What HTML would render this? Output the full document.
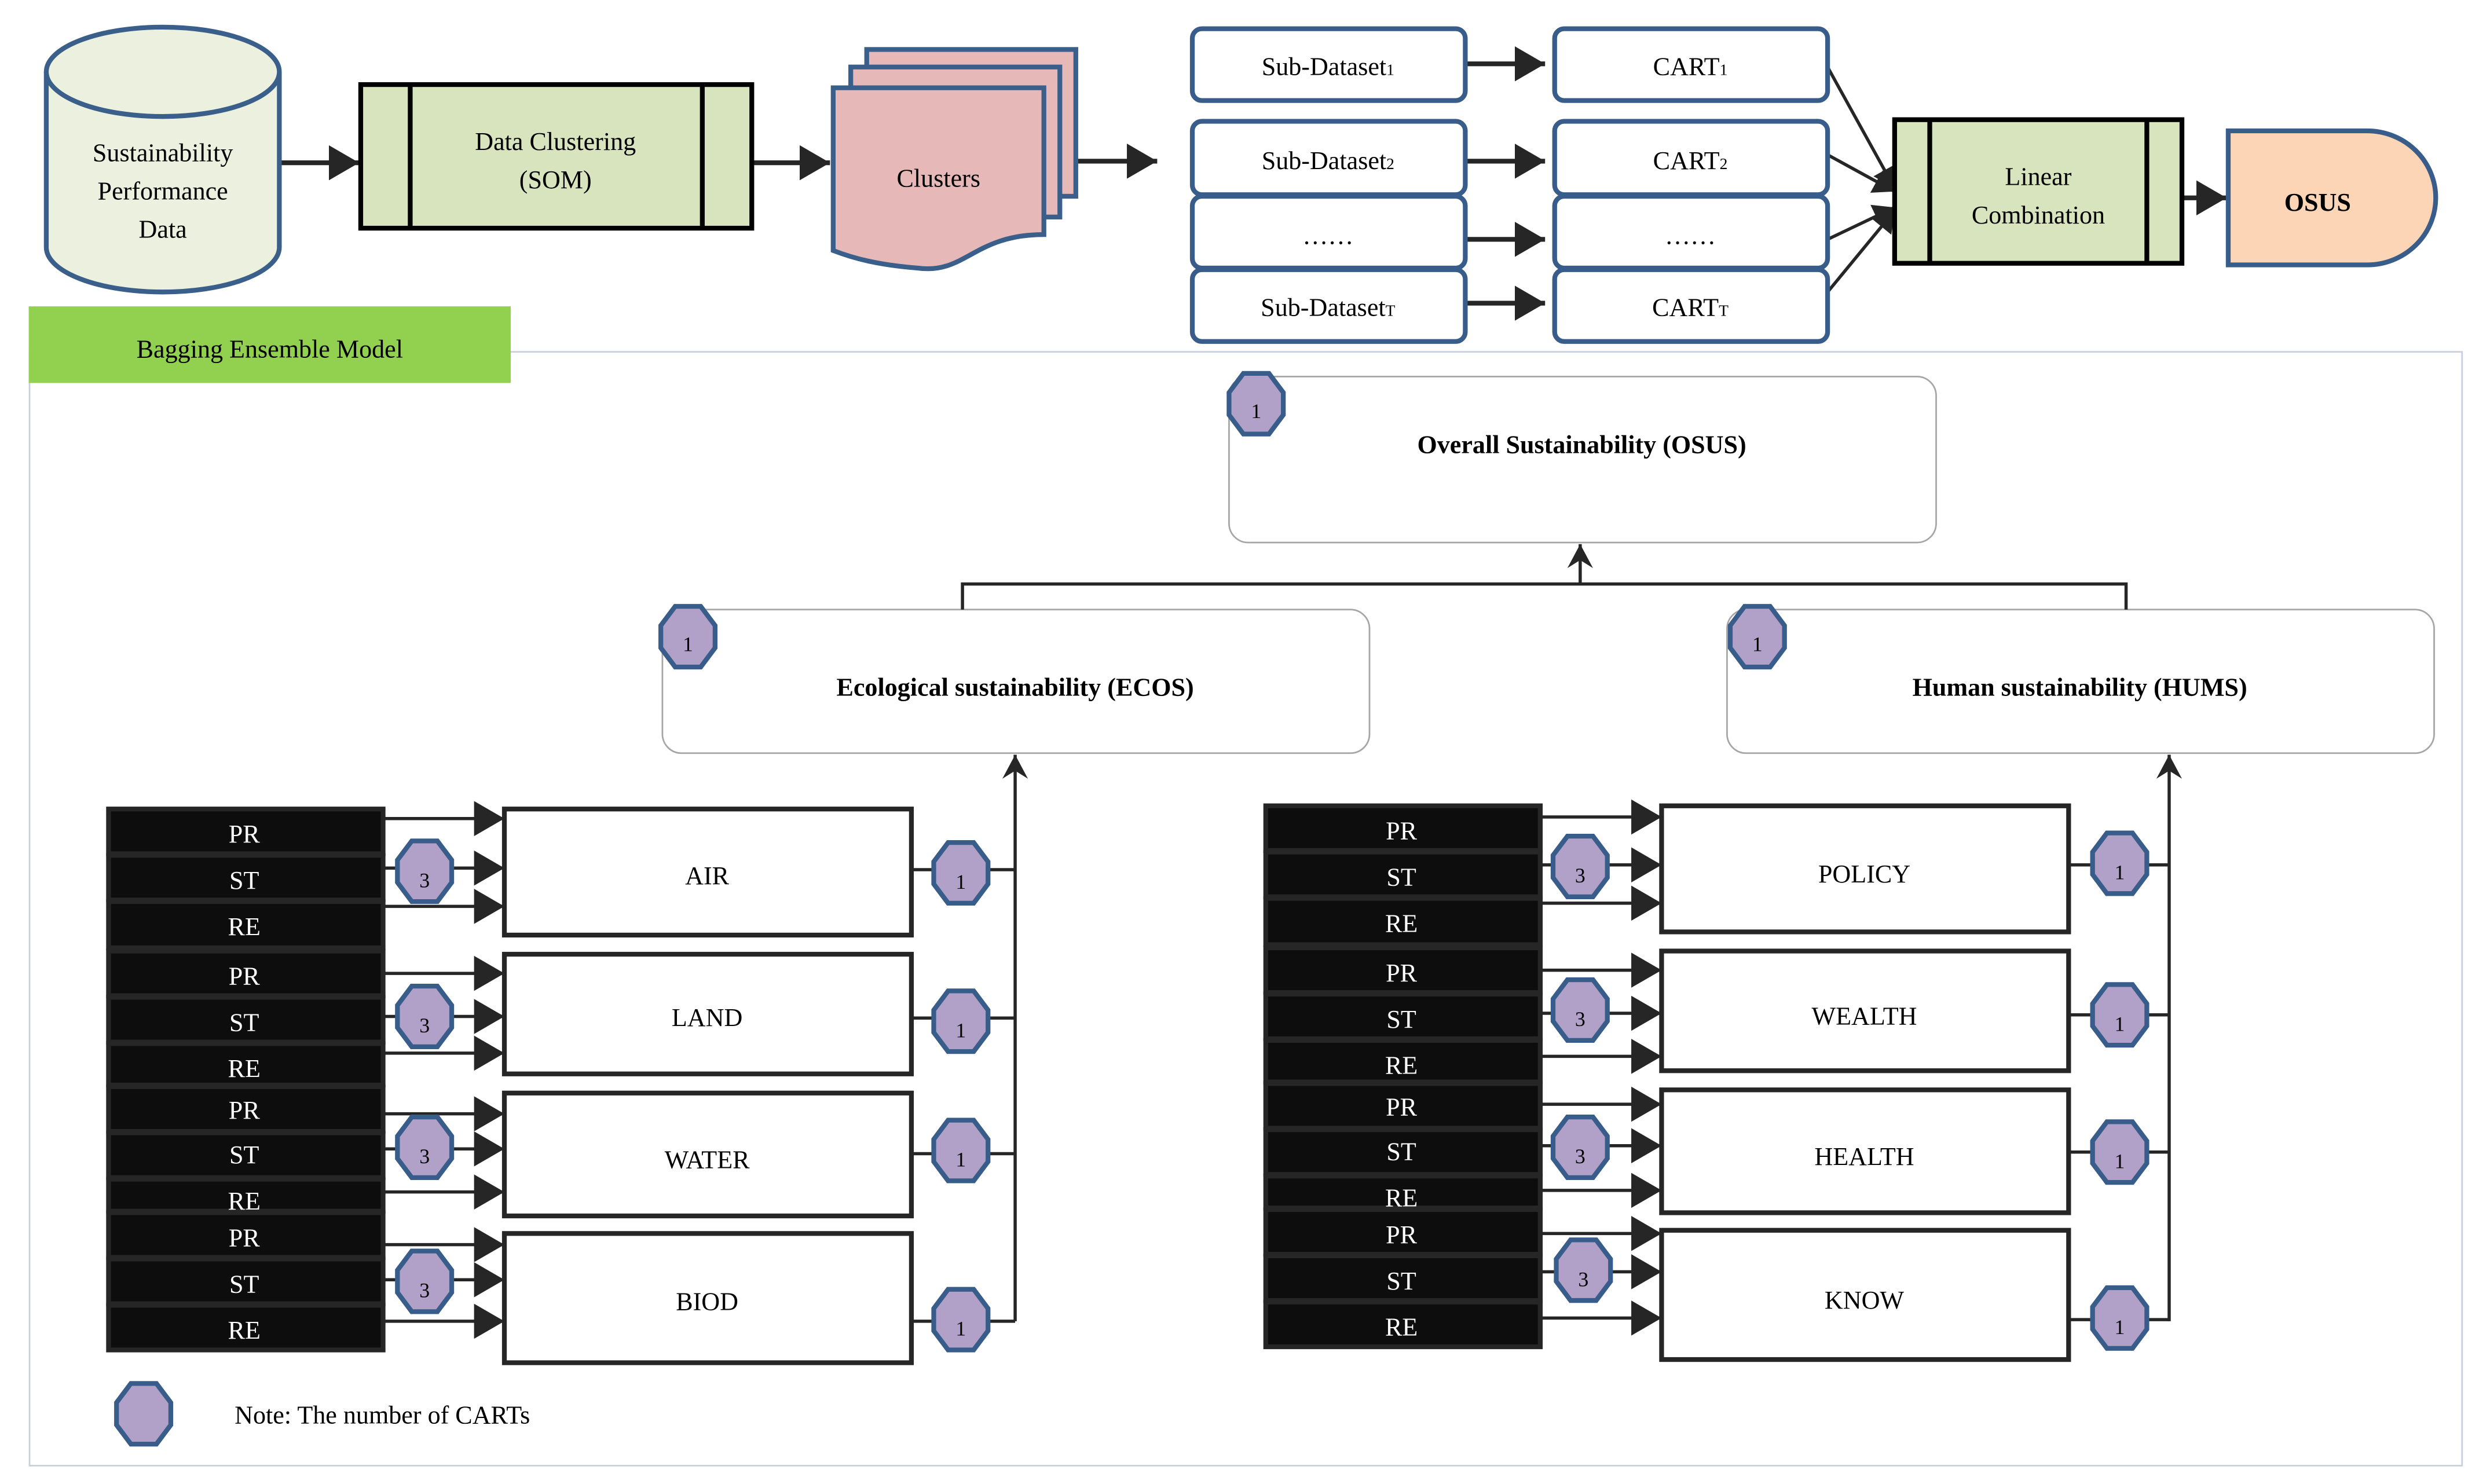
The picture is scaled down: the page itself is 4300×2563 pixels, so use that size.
<!DOCTYPE html>
<html><head><meta charset="utf-8"><style>html,body{margin:0;padding:0;background:#fff}svg{display:block}</style></head><body>
<svg width="4300" height="2563" viewBox="0 0 1560 930" preserveAspectRatio="none" xmlns="http://www.w3.org/2000/svg" font-family="'Liberation Serif', serif" font-size="16">
<defs>
<marker id="a" markerUnits="userSpaceOnUse" markerWidth="20" markerHeight="22" refX="19" refY="11" orient="auto"><path d="M0,0 L19,11 L0,22 Z" fill="#262626"/></marker>
<marker id="s" markerUnits="userSpaceOnUse" markerWidth="14" markerHeight="16" refX="13" refY="8" orient="auto"><path d="M0,0 L13,8 L0,16 Z" fill="#262626"/></marker>
<marker id="u" markerUnits="userSpaceOnUse" markerWidth="16" markerHeight="18" refX="15" refY="9" orient="auto"><path d="M0,1 L15,9 L0,17 L5,9 Z" fill="#262626"/></marker>
<polygon id="o" points="-8,-19 8,-19 17,-7 17,7 8,19 -8,19 -17,7 -17,-7" fill="#b1a0c7" stroke="#385d8a" stroke-width="3"/>
</defs>
<g stroke="#262626" stroke-width="3" fill="none">
<line x1="175" y1="102" x2="225" y2="102" marker-end="url(#a)"/>
<line x1="471" y1="102" x2="520" y2="102" marker-end="url(#a)"/>
<line x1="675" y1="101" x2="725" y2="101" marker-end="url(#a)"/>
<line x1="918" y1="40" x2="968" y2="40" marker-end="url(#a)"/>
<line x1="918" y1="101" x2="968" y2="101" marker-end="url(#a)"/>
<line x1="918" y1="150" x2="968" y2="150" marker-end="url(#a)"/>
<line x1="918" y1="190" x2="968" y2="190" marker-end="url(#a)"/>
<line x1="1367" y1="124" x2="1395" y2="124" marker-end="url(#a)"/>
</g>
<g stroke="#262626" stroke-width="2" fill="none">
<line x1="1145" y1="42" x2="1187" y2="118" marker-end="url(#s)"/>
<line x1="1145" y1="97" x2="1187" y2="120" marker-end="url(#s)"/>
<line x1="1145" y1="150" x2="1187" y2="130" marker-end="url(#s)"/>
<line x1="1145" y1="183" x2="1187" y2="132" marker-end="url(#s)"/>
</g>
<!-- cylinder -->
<path d="M29,45 L29,155 A73,28 0 0 0 175,155 L175,45" fill="#ebf1de" stroke="#3a5f8a" stroke-width="3"/>
<ellipse cx="102" cy="45" rx="73" ry="28" fill="#ebf1de" stroke="#3a5f8a" stroke-width="3"/>
<text x="102" y="101" text-anchor="middle">Sustainability</text>
<text x="102" y="125" text-anchor="middle">Performance</text>
<text x="102" y="149" text-anchor="middle">Data</text>
<!-- SOM -->
<rect x="226" y="53" width="245" height="90" fill="#d7e4bd" stroke="#000" stroke-width="3"/>
<line x1="257" y1="53" x2="257" y2="143" stroke="#000" stroke-width="3"/>
<line x1="440" y1="53" x2="440" y2="143" stroke="#000" stroke-width="3"/>
<text x="348" y="94" text-anchor="middle">Data Clustering</text>
<text x="348" y="118" text-anchor="middle">(SOM)</text>
<!-- clusters -->
<g fill="#e6b9b8" stroke="#3a5f8a" stroke-width="3">
<rect x="543" y="31" width="131" height="92"/>
<rect x="533" y="42" width="131" height="94"/>
<path d="M522,55 L654,55 L654,147 C610,147 605,172 575,168 C550,166 535,162 522,157 Z"/>
</g>
<text x="588" y="117" text-anchor="middle">Clusters</text>
<!-- sub datasets & carts -->
<g fill="#fff" stroke="#385d8a" stroke-width="3">
<rect x="747" y="18" width="171" height="45" rx="6"/><rect x="747" y="76" width="171" height="46" rx="6"/>
<rect x="747" y="123" width="171" height="45" rx="6"/><rect x="747" y="169" width="171" height="45" rx="6"/>
<rect x="974" y="18" width="171" height="45" rx="6"/><rect x="974" y="76" width="171" height="46" rx="6"/>
<rect x="974" y="123" width="171" height="45" rx="6"/><rect x="974" y="169" width="171" height="45" rx="6"/>
</g>
<g text-anchor="middle">
<text x="832" y="47">Sub-Dataset<tspan font-size="10">1</tspan></text>
<text x="832" y="106">Sub-Dataset<tspan font-size="10">2</tspan></text>
<text x="832" y="153">……</text>
<text x="832" y="198">Sub-Dataset<tspan font-size="10">T</tspan></text>
<text x="1059" y="47">CART<tspan font-size="10">1</tspan></text>
<text x="1059" y="106">CART<tspan font-size="10">2</tspan></text>
<text x="1059" y="153">……</text>
<text x="1059" y="198">CART<tspan font-size="10">T</tspan></text>
</g>
<rect x="1187" y="75" width="180" height="90" fill="#d7e4bd" stroke="#000" stroke-width="3"/>
<line x1="1209" y1="75" x2="1209" y2="165" stroke="#000" stroke-width="3"/>
<line x1="1345" y1="75" x2="1345" y2="165" stroke="#000" stroke-width="3"/>
<text x="1277" y="116" text-anchor="middle">Linear</text>
<text x="1277" y="140" text-anchor="middle">Combination</text>
<path d="M1396,82 L1483,82 A43,42 0 0 1 1483,166 L1396,166 Z" fill="#fbd5b5" stroke="#385d8a" stroke-width="3"/>
<text x="1452" y="132" text-anchor="middle" font-weight="bold">OSUS</text>
<!-- bagging -->
<rect x="18.5" y="220.5" width="1524" height="698" fill="none" stroke="#c8d0dc" stroke-width="1"/>
<rect x="18" y="192" width="302" height="48" fill="#92d050"/>
<text x="169" y="224" text-anchor="middle">Bagging Ensemble Model</text>
<rect x="770" y="236" width="443" height="104" rx="12" fill="#fff" stroke="#a6a6a6"/>
<text x="991" y="284" text-anchor="middle" font-weight="bold">Overall Sustainability (OSUS)</text>
<rect x="415" y="382" width="443" height="90" rx="12" fill="#fff" stroke="#a6a6a6"/>
<text x="636" y="436" text-anchor="middle" font-weight="bold">Ecological sustainability (ECOS)</text>
<rect x="1082" y="382" width="443" height="90" rx="12" fill="#fff" stroke="#a6a6a6"/>
<text x="1303" y="436" text-anchor="middle" font-weight="bold">Human sustainability (HUMS)</text>
<g stroke="#262626" stroke-width="2" fill="none">
<polyline points="603,382 603,366 1332,366 1332,382"/>
<line x1="990" y1="366" x2="990" y2="341" marker-end="url(#u)"/>
<line x1="636" y1="828" x2="636" y2="473" marker-end="url(#u)"/>
<line x1="1359" y1="828" x2="1359" y2="473" marker-end="url(#u)"/>
</g>
<use href="#o" x="787" y="253"/><text x="787" y="262" text-anchor="middle" font-size="13">1</text>
<use href="#o" x="431" y="399"/><text x="431" y="408" text-anchor="middle" font-size="13">1</text>
<use href="#o" x="1101" y="399"/><text x="1101" y="408" text-anchor="middle" font-size="13">1</text>
<!-- left tables -->
<g fill="#0d0d0d" stroke="#262626" stroke-width="3">
<rect x="68" y="507" width="172" height="28"/><rect x="68" y="536" width="172" height="28"/><rect x="68" y="565" width="172" height="29"/>
<rect x="68" y="596" width="172" height="28"/><rect x="68" y="625" width="172" height="28"/><rect x="68" y="654" width="172" height="26"/>
<rect x="68" y="681" width="172" height="28"/><rect x="68" y="710" width="172" height="28"/><rect x="68" y="739" width="172" height="20"/>
<rect x="68" y="760" width="172" height="28"/><rect x="68" y="789" width="172" height="28"/><rect x="68" y="818" width="172" height="28"/>
<rect x="793" y="505" width="172" height="28"/><rect x="793" y="534" width="172" height="28"/><rect x="793" y="563" width="172" height="29"/>
<rect x="793" y="594" width="172" height="28"/><rect x="793" y="623" width="172" height="28"/><rect x="793" y="652" width="172" height="26"/>
<rect x="793" y="679" width="172" height="28"/><rect x="793" y="708" width="172" height="28"/><rect x="793" y="737" width="172" height="20"/>
<rect x="793" y="758" width="172" height="28"/><rect x="793" y="787" width="172" height="28"/><rect x="793" y="816" width="172" height="28"/>
</g>
<g fill="#fff" text-anchor="middle">
<text x="153" y="528">PR</text><text x="153" y="557">ST</text><text x="153" y="586">RE</text>
<text x="153" y="617">PR</text><text x="153" y="646">ST</text><text x="153" y="675">RE</text>
<text x="153" y="701">PR</text><text x="153" y="729">ST</text><text x="153" y="758">RE</text>
<text x="153" y="781">PR</text><text x="153" y="810">ST</text><text x="153" y="839">RE</text>
<text x="878" y="526">PR</text><text x="878" y="555">ST</text><text x="878" y="584">RE</text>
<text x="878" y="615">PR</text><text x="878" y="644">ST</text><text x="878" y="673">RE</text>
<text x="878" y="699">PR</text><text x="878" y="727">ST</text><text x="878" y="756">RE</text>
<text x="878" y="779">PR</text><text x="878" y="808">ST</text><text x="878" y="837">RE</text>
</g>
<g stroke="#262626" stroke-width="2" fill="none">
<line x1="240" y1="513" x2="316" y2="513" marker-end="url(#a)"/><line x1="240" y1="544" x2="316" y2="544" marker-end="url(#a)"/><line x1="240" y1="568" x2="316" y2="568" marker-end="url(#a)"/>
<line x1="240" y1="610" x2="316" y2="610" marker-end="url(#a)"/><line x1="240" y1="637" x2="316" y2="637" marker-end="url(#a)"/><line x1="240" y1="660" x2="316" y2="660" marker-end="url(#a)"/>
<line x1="240" y1="698" x2="316" y2="698" marker-end="url(#a)"/><line x1="240" y1="720" x2="316" y2="720" marker-end="url(#a)"/><line x1="240" y1="747" x2="316" y2="747" marker-end="url(#a)"/>
<line x1="240" y1="780" x2="316" y2="780" marker-end="url(#a)"/><line x1="240" y1="802" x2="316" y2="802" marker-end="url(#a)"/><line x1="240" y1="828" x2="316" y2="828" marker-end="url(#a)"/>
<line x1="965" y1="512" x2="1041" y2="512" marker-end="url(#a)"/><line x1="965" y1="542" x2="1041" y2="542" marker-end="url(#a)"/><line x1="965" y1="566" x2="1041" y2="566" marker-end="url(#a)"/>
<line x1="965" y1="608" x2="1041" y2="608" marker-end="url(#a)"/><line x1="965" y1="635" x2="1041" y2="635" marker-end="url(#a)"/><line x1="965" y1="662" x2="1041" y2="662" marker-end="url(#a)"/>
<line x1="965" y1="692" x2="1041" y2="692" marker-end="url(#a)"/><line x1="965" y1="718" x2="1041" y2="718" marker-end="url(#a)"/><line x1="965" y1="746" x2="1041" y2="746" marker-end="url(#a)"/>
<line x1="965" y1="773" x2="1041" y2="773" marker-end="url(#a)"/><line x1="965" y1="797" x2="1041" y2="797" marker-end="url(#a)"/><line x1="965" y1="826" x2="1041" y2="826" marker-end="url(#a)"/>
<line x1="571" y1="545" x2="636" y2="545"/><line x1="571" y1="638" x2="636" y2="638"/><line x1="571" y1="723" x2="636" y2="723"/><line x1="571" y1="828" x2="636" y2="828"/>
<line x1="1296" y1="542" x2="1359" y2="542"/><line x1="1296" y1="636" x2="1359" y2="636"/><line x1="1296" y1="722" x2="1359" y2="722"/><line x1="1296" y1="827" x2="1359" y2="827"/>
</g>
<g fill="#fff" stroke="#262626" stroke-width="3">
<rect x="316" y="507" width="255" height="79"/><rect x="316" y="598" width="255" height="75"/><rect x="316" y="685" width="255" height="77"/><rect x="316" y="773" width="255" height="81"/>
<rect x="1041" y="505" width="255" height="79"/><rect x="1041" y="596" width="255" height="75"/><rect x="1041" y="683" width="255" height="77"/><rect x="1041" y="771" width="255" height="81"/>
</g>
<g text-anchor="middle">
<text x="443" y="554">AIR</text><text x="443" y="643">LAND</text><text x="443" y="732">WATER</text><text x="443" y="821">BIOD</text>
<text x="1168" y="553">POLICY</text><text x="1168" y="642">WEALTH</text><text x="1168" y="730">HEALTH</text><text x="1168" y="820">KNOW</text>
</g>
<use href="#o" x="266" y="546"/><use href="#o" x="266" y="637"/><use href="#o" x="266" y="719"/><use href="#o" x="266" y="803"/>
<use href="#o" x="602" y="547"/><use href="#o" x="602" y="640"/><use href="#o" x="602" y="721"/><use href="#o" x="602" y="827"/>
<use href="#o" x="990" y="543"/><use href="#o" x="990" y="633"/><use href="#o" x="990" y="719"/><use href="#o" x="992" y="796"/>
<use href="#o" x="1328" y="541"/><use href="#o" x="1328" y="636"/><use href="#o" x="1328" y="722"/><use href="#o" x="1328" y="826"/>
<use href="#o" x="90" y="886"/>
<g text-anchor="middle" font-size="13">
<text x="266" y="556">3</text><text x="266" y="647">3</text><text x="266" y="729">3</text><text x="266" y="813">3</text>
<text x="602" y="557">1</text><text x="602" y="650">1</text><text x="602" y="731">1</text><text x="602" y="837">1</text>
<text x="990" y="553">3</text><text x="990" y="643">3</text><text x="990" y="729">3</text><text x="992" y="806">3</text>
<text x="1328" y="551">1</text><text x="1328" y="646">1</text><text x="1328" y="732">1</text><text x="1328" y="836">1</text>
</g>
<text x="147" y="892">Note: The number of CARTs</text>
</svg>
</body></html>
